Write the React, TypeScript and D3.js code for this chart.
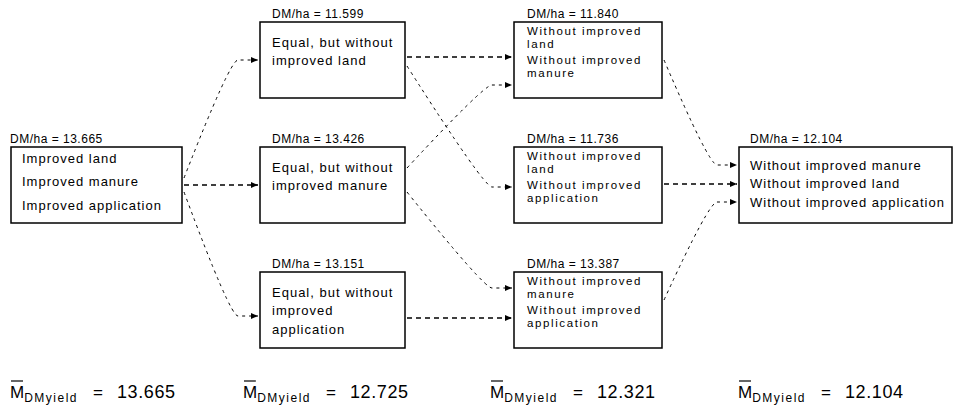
import React from 'react';
import * as d3 from 'd3';

// DM/ha per box (col, row) and the text lines inside
const boxCols = [0, 1, 1, 1, 2, 2, 2, 3];
const boxRows = [1, 0, 1, 2, 0, 1, 2, 1];
const dmValues = [13.665, 11.599, 13.426, 13.151, 11.840, 11.736, 13.387, 12.104];
const boxLines = [
  ['Improved land', 'Improved manure', 'Improved application'],
  ['Equal, but without', 'improved land'],
  ['Equal, but without', 'improved manure'],
  ['Equal, but without', 'improved', 'application'],
  ['Without improved', 'land', 'Without improved', 'manure'],
  ['Without improved', 'land', 'Without improved', 'application'],
  ['Without improved', 'manure', 'Without improved', 'application'],
  ['Without improved manure', 'Without improved land', 'Without improved application'],
];
// arrows: [from box, to box]
const links: [number, number][] = [
  [0, 1], [0, 2], [0, 3],
  [1, 4], [1, 5], [2, 4], [2, 6], [3, 6],
  [4, 7], [5, 7], [6, 7],
];
const meanYield = [13.665, 12.725, 12.321, 12.104];

// ---- layout ----
const W = 955;
const H = 410;
const colX = [11, 260, 514, 739];
const colW = [171, 145, 148, 213];
const BOX_H = 76;
const labelDx = [-1, 12, 13, 11];
const lineDx = [11, 12, 13, 11];
const lineFont = [13, 13, 11.5, 13];
const lineSpacing = [1, 1, 1.6, 1];
// line centre offsets from the box top, per column
const lineOffsets = [
  [11, 34, 58],
  [20, 38.5, 57],
  [9, 22.3, 37.5, 50.8],
  [18, 36, 55],
];
// [source y, target y] offsets from the box tops, per link
const linkPorts = [
  [31, 38], [38, 38], [45, 44],
  [35, 35], [44, 40], [21, 63], [45, 16], [46, 46],
  [38, 18], [37, 37], [28, 55],
];
const meanX = [10, 243, 490, 738];

const rowY = d3.scaleLinear().domain([0, 2]).range([22, 272]);
const fmt = d3.format('.3f');
const FONT = '"Liberation Sans", Arial, Helvetica, sans-serif';

const boxTop = (i: number) => rowY(boxRows[i]);

function linkPath(s: number, t: number, k: number) {
  const sx = colX[boxCols[s]] + colW[boxCols[s]] + 2;
  const tx = colX[boxCols[t]] - 2;
  const sy = boxTop(s) + linkPorts[k][0];
  const ty = boxTop(t) + linkPorts[k][1];
  const p = d3.path();
  p.moveTo(sx, sy);
  if (Math.abs(sy - ty) < 1) {
    p.lineTo(tx, ty);
    return { d: p.toString(), straight: true };
  }
  const ex = tx - 20;
  p.quadraticCurveTo(ex - 8, ty, ex, ty);
  p.lineTo(tx, ty);
  return { d: p.toString(), straight: false };
}

export default function App() {
  return (
    <svg
      width={W}
      height={H}
      style={{ position: 'absolute', left: 0, top: 0, background: '#fff' }}
      fontFamily={FONT}
    >
      <defs>
        <marker
          id="arrow"
          markerUnits="userSpaceOnUse"
          markerWidth={8}
          markerHeight={8}
          refX={7}
          refY={3.5}
          orient="auto"
        >
          <path d="M0,0.5 L7,3.5 L0,6.5 z" fill="#000" />
        </marker>
      </defs>

      {links.map(([s, t], k) => {
        const { d, straight } = linkPath(s, t, k);
        return (
          <path
            key={k}
            d={d}
            fill="none"
            stroke="#000"
            strokeWidth={straight ? 1.3 : 1}
            strokeDasharray={straight ? '5,4' : '3,4'}
            markerEnd="url(#arrow)"
          />
        );
      })}

      {dmValues.map((v, i) => {
        const c = boxCols[i];
        const x = colX[c];
        const y = boxTop(i);
        return (
          <g key={i}>
            <text x={x + labelDx[c]} y={y - 4} fontSize={12} letterSpacing={0.5}>
              {`DM/ha = ${fmt(v)}`}
            </text>
            <rect x={x} y={y} width={colW[c]} height={BOX_H} fill="#fff" stroke="#000" strokeWidth={1.5} />
            {boxLines[i].map((line, j) => (
              <text
                key={j}
                x={x + lineDx[c]}
                y={y + lineOffsets[c][j] + lineFont[c] * 0.35}
                fontSize={lineFont[c]}
                letterSpacing={lineSpacing[c]}
              >
                {line}
              </text>
            ))}
          </g>
        );
      })}

      {meanYield.map((v, i) => (
        <g key={i}>
          <line x1={meanX[i] + 1} x2={meanX[i] + 13} y1={381} y2={381} stroke="#000" strokeWidth={1.2} />
          <text x={meanX[i]} y={398} fontSize={17}>
            <tspan>M</tspan>
            <tspan fontSize={12} dy={4} letterSpacing={1.5}>
              DMyield
            </tspan>
            <tspan dy={-4} dx={15}>=</tspan>
            <tspan dx={14} fontSize={18} letterSpacing={0.6}>{fmt(v)}</tspan>
          </text>
        </g>
      ))}
    </svg>
  );
}
